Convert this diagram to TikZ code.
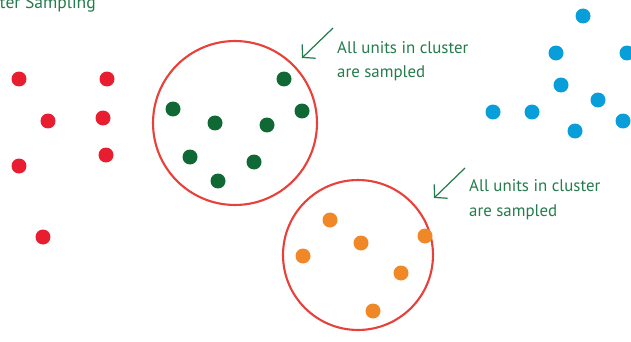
\documentclass[tikz,border=0pt]{standalone}
\usepackage{fontspec}
\setmainfont{PT Sans}
\usetikzlibrary{arrows.meta}
\definecolor{dotred}{RGB}{232,30,48}
\definecolor{dotgreen}{RGB}{16,104,52}
\definecolor{dotorange}{RGB}{240,136,40}
\definecolor{dotblue}{RGB}{8,158,218}
\definecolor{ringred}{RGB}{232,64,58}
\definecolor{labelgreen}{RGB}{36,124,76}
\tikzstyle{unit}=[circle,minimum size=0.3cm,inner sep=0pt]
\tikzstyle{cluster}=[circle,draw=ringred,line width=1.2pt,inner sep=0pt]
\tikzstyle{note}=[text=labelgreen,font=\fontsize{9.6}{14}\selectfont,align=left,anchor=west]
\tikzstyle{pointer}=[labelgreen,line width=0.7pt,-{Straight Barb[length=5pt,width=11pt]}]

\begin{document}
\begin{tikzpicture}[x=0.02cm,y=-0.02cm]
\useasboundingbox (0,0) rectangle (631,341);
\node[text=labelgreen,font=\fontsize{10}{12}\selectfont,anchor=east] (title) at (102,4) {Cluster Sampling};
% clusters
\node[cluster,minimum size=3.28cm] (c1) at (235,123) {};
\node[cluster,minimum size=3.0cm] (c2) at (358,255) {};
% red units
\node[unit,fill=dotred] (r1) at (19,79) {};
\node[unit,fill=dotred] (r2) at (107,79) {};
\node[unit,fill=dotred] (r3) at (48,121) {};
\node[unit,fill=dotred] (r4) at (103,118) {};
\node[unit,fill=dotred] (r5) at (19,166) {};
\node[unit,fill=dotred] (r6) at (106,155) {};
\node[unit,fill=dotred] (r7) at (43,237) {};
% green units
\node[unit,fill=dotgreen] (g1) at (284,79) {};
\node[unit,fill=dotgreen] (g2) at (173,109) {};
\node[unit,fill=dotgreen] (g3) at (215,123) {};
\node[unit,fill=dotgreen] (g4) at (267,125) {};
\node[unit,fill=dotgreen] (g5) at (302,111) {};
\node[unit,fill=dotgreen] (g6) at (190,157) {};
\node[unit,fill=dotgreen] (g7) at (254,162) {};
\node[unit,fill=dotgreen] (g8) at (218,181) {};
% orange units
\node[unit,fill=dotorange] (o1) at (330,220) {};
\node[unit,fill=dotorange] (o2) at (361,243) {};
\node[unit,fill=dotorange] (o3) at (425,236) {};
\node[unit,fill=dotorange] (o4) at (303,256) {};
\node[unit,fill=dotorange] (o5) at (401,273) {};
\node[unit,fill=dotorange] (o6) at (373,311) {};
% blue units
\node[unit,fill=dotblue] (b1) at (583,16) {};
\node[unit,fill=dotblue] (b2) at (556,53) {};
\node[unit,fill=dotblue] (b3) at (627,53) {};
\node[unit,fill=dotblue] (b4) at (561,85) {};
\node[unit,fill=dotblue] (b5) at (598,100) {};
\node[unit,fill=dotblue] (b6) at (493,112) {};
\node[unit,fill=dotblue] (b7) at (532,112) {};
\node[unit,fill=dotblue] (b8) at (575,131) {};
\node[unit,fill=dotblue] (b9) at (623,121) {};
% notes
\node[note] (n1) at (331,61) {All units in cluster\\are sampled};
\node[note] (n2) at (463,199.5) {All units in cluster\\are sampled};
\coordinate (p1) at (333,28);
\coordinate (q1) at (302,58);
\coordinate (p2) at (465,168);
\coordinate (q2) at (434,198);
\draw[pointer] (p1) -- (q1);
\draw[pointer] (p2) -- (q2);
\end{tikzpicture}
\end{document}
